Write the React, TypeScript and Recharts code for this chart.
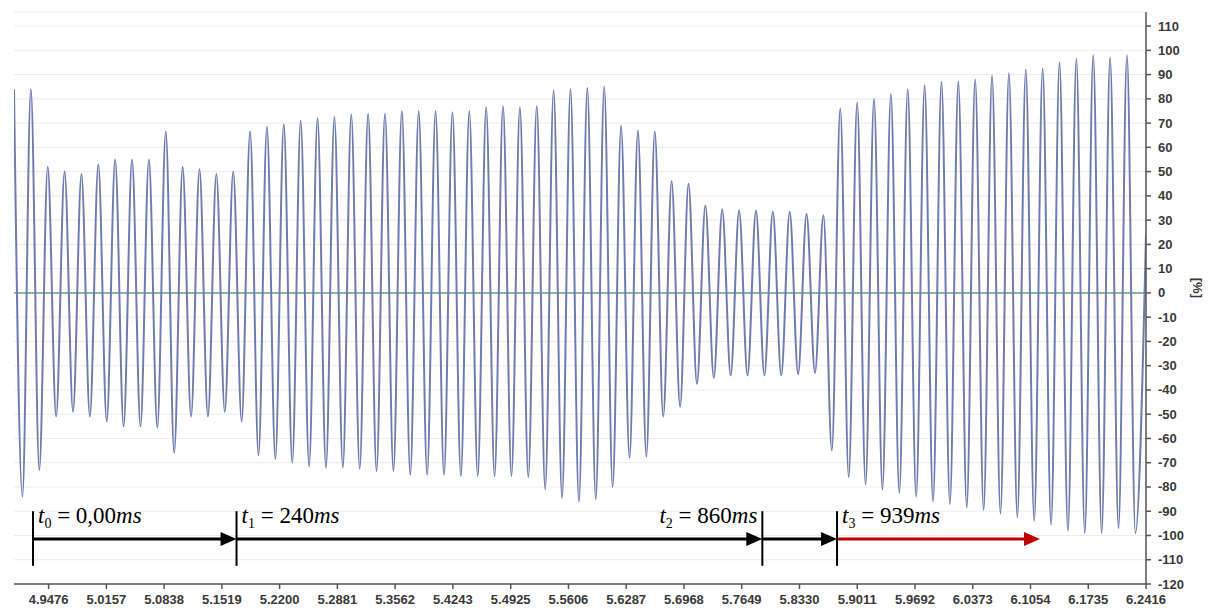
import React from "react";
import { LineChart, Line, XAxis, YAxis, CartesianGrid, ReferenceLine } from "recharts";

// Alternating extremes of the waveform (one peak then one trough per cycle), in %
const PEAKS = [
  84, 84, 52, 50, 49, 53, 55, 55, 55, 66.5, 52, 51, 49, 50, 66.5, 68.5, 69.5,
  71, 72, 72.5, 73.5, 74, 74, 75, 75, 75, 74.5, 75, 76.5, 77, 76.5, 77, 83.5, 84,
  84.5, 85, 69, 67, 66.5, 46, 45, 36, 34.5, 34, 34, 33.5, 33.5, 32.5, 32, 76,
  78.5, 80, 82, 84, 85.5, 87, 87, 88, 89.5, 90.5, 92, 92.5, 95, 96.5, 98, 97, 98,
];
const TROUGHS = [
  -84, -73, -51, -49, -51, -53, -55, -55, -55.5, -66, -51, -51, -49, -53, -67, -68.5, -70,
  -71.5, -72, -72, -72.5, -73.5, -73.5, -75, -75, -75, -75.5, -75.5, -75.5, -75.5, -76, -81, -84.5,
  -86, -85, -80, -68, -67.5, -51, -47, -37.5, -35, -34, -34, -34, -34, -33.5, -33, -65,
  -76, -79, -81, -82.5, -84, -86, -87, -88.5, -89.5, -91, -92.5, -94, -95.5, -98, -99, -99, -97, -99,
];
const FIRST_PEAK_TIME = 4.9068; // s
const HALF_PERIOD = 0.009942; // s (50 Hz signal)
const END_TIME = 6.2416;
const END_VALUE = 24;

const X_TICKS = [
  4.9476, 5.0157, 5.0838, 5.1519, 5.22, 5.2881, 5.3562, 5.4243, 5.4925, 5.5606,
  5.6287, 5.6968, 5.7649, 5.833, 5.9011, 5.9692, 6.0373, 6.1054, 6.1735, 6.2416,
];
const Y_TICKS = [
  -120, -110, -100, -90, -80, -70, -60, -50, -40, -30, -20, -10, 0,
  10, 20, 30, 40, 50, 60, 70, 80, 90, 100, 110,
];

// Annotations (time markers)
const MARKER_TIMES = [4.9292, 5.1692, 5.7892, 5.8773];
const MARKER_SUBS = ["0", "1", "2", "3"];
const MARKER_VALUES = ["0,00", "240", "860", "939"];
const MARKER_LABEL_SIDE = ["right", "right", "left", "right"];
const RED_ARROW_END = 6.1166;
const ARROW_LEVEL = -101.5;
const MARKER_TOP = -90;
const MARKER_BOTTOM = -112.5;

const data: { t: number; v: number }[] = [];
PEAKS.forEach((p, i) => {
  data.push({ t: FIRST_PEAK_TIME + 2 * i * HALF_PERIOD, v: p });
  data.push({ t: FIRST_PEAK_TIME + (2 * i + 1) * HALF_PERIOD, v: TROUGHS[i] });
});
data.push({ t: END_TIME, v: END_VALUE });

const serif = "'Liberation Serif', 'Times New Roman', serif";
const sans = "'Liberation Sans', Arial, sans-serif";

const arrowShape = (color: string) => (props: any) => {
  const { x1, y1, x2, y2 } = props;
  const head = 16;
  const hh = 7;
  return (
    <g>
      <line x1={x1} y1={y1} x2={x2 - head + 2} y2={y2} stroke={color} strokeWidth={3} />
      <polygon points={`${x2},${y2} ${x2 - head},${y2 - hh} ${x2 - head},${y2 + hh}`} fill={color} />
    </g>
  );
};

const markerShape = (i: number) => (props: any) => {
  const { x1, y1, y2 } = props;
  const top = Math.min(y1, y2);
  const bottom = Math.max(y1, y2);
  const side = MARKER_LABEL_SIDE[i];
  const tx = side === "right" ? x1 + 5 : x1 - 5;
  return (
    <g>
      <line x1={x1} y1={top} x2={x1} y2={bottom} stroke="#000" strokeWidth={2} />
      <text
        x={tx}
        y={top + 12}
        textAnchor={side === "right" ? "start" : "end"}
        fontFamily={serif}
        fontSize={23}
        fill="#000"
      >
        <tspan fontStyle="italic">t</tspan>
        <tspan fontSize={14} dy={5}>{MARKER_SUBS[i]}</tspan>
        <tspan dy={-5}>{" = " + MARKER_VALUES[i]}</tspan>
        <tspan fontStyle="italic">ms</tspan>
      </text>
    </g>
  );
};

const XTick = (props: any) => {
  const { x, y, payload } = props;
  return (
    <text x={x} y={y + 9} textAnchor="middle" fontFamily={sans} fontSize={13} fontWeight="bold" fill="#3a3a3a">
      {Number(payload.value).toFixed(4)}
    </text>
  );
};

const YTick = (props: any) => {
  const { x, y, payload } = props;
  return (
    <text x={x} y={y + 4.5} textAnchor="start" fontFamily={sans} fontSize={13} fontWeight="bold" fill="#3a3a3a">
      {payload.value}
    </text>
  );
};

export default function App() {
  return (
    <div style={{ position: "absolute", left: 0, top: 0, background: "#fff" }}>
      <LineChart
        width={1214}
        height={608}
        data={data}
        margin={{ top: 12, right: 8, bottom: 0, left: 14 }}
      >
        <CartesianGrid horizontal vertical={false} stroke="#ececf0" strokeWidth={1} />
        <XAxis
          type="number"
          dataKey="t"
          domain={[FIRST_PEAK_TIME, END_TIME]}
          ticks={X_TICKS}
          allowDataOverflow
          height={24}
          tickSize={5}
          tickMargin={6}
          stroke="#555"
          strokeWidth={1.5}
          interval={0}
          tick={XTick}
        />
        <YAxis
          orientation="right"
          type="number"
          domain={[-120, 115.8]}
          ticks={Y_TICKS}
          allowDataOverflow
          width={60}
          tickSize={5}
          tickMargin={7}
          stroke="#555"
          strokeWidth={1.5}
          interval={0}
          tick={YTick}
          label={{
            value: "[%]",
            angle: 90,
            position: "insideRight",
            offset: 8,
            style: { fontSize: 13, fontWeight: 700, fill: "#3a3a3a", fontFamily: sans },
          }}
        />
        <ReferenceLine y={0} stroke="#6a9e94" strokeWidth={1.5} />
        <Line
          type="monotone"
          dataKey="v"
          stroke="#6f7cad"
          strokeWidth={2}
          dot={false}
          isAnimationActive={false}
        />
        <ReferenceLine
          segment={[{ x: MARKER_TIMES[0], y: ARROW_LEVEL }, { x: MARKER_TIMES[1], y: ARROW_LEVEL }]}
          shape={arrowShape("#000")}
        />
        <ReferenceLine
          segment={[{ x: MARKER_TIMES[1], y: ARROW_LEVEL }, { x: MARKER_TIMES[2], y: ARROW_LEVEL }]}
          shape={arrowShape("#000")}
        />
        <ReferenceLine
          segment={[{ x: MARKER_TIMES[2], y: ARROW_LEVEL }, { x: MARKER_TIMES[3], y: ARROW_LEVEL }]}
          shape={arrowShape("#000")}
        />
        <ReferenceLine
          segment={[{ x: MARKER_TIMES[3], y: ARROW_LEVEL }, { x: RED_ARROW_END, y: ARROW_LEVEL }]}
          shape={arrowShape("#c00000")}
        />
        {MARKER_TIMES.map((t, i) => (
          <ReferenceLine
            key={i}
            segment={[{ x: t, y: MARKER_TOP }, { x: t, y: MARKER_BOTTOM }]}
            shape={markerShape(i)}
          />
        ))}
      </LineChart>
    </div>
  );
}
